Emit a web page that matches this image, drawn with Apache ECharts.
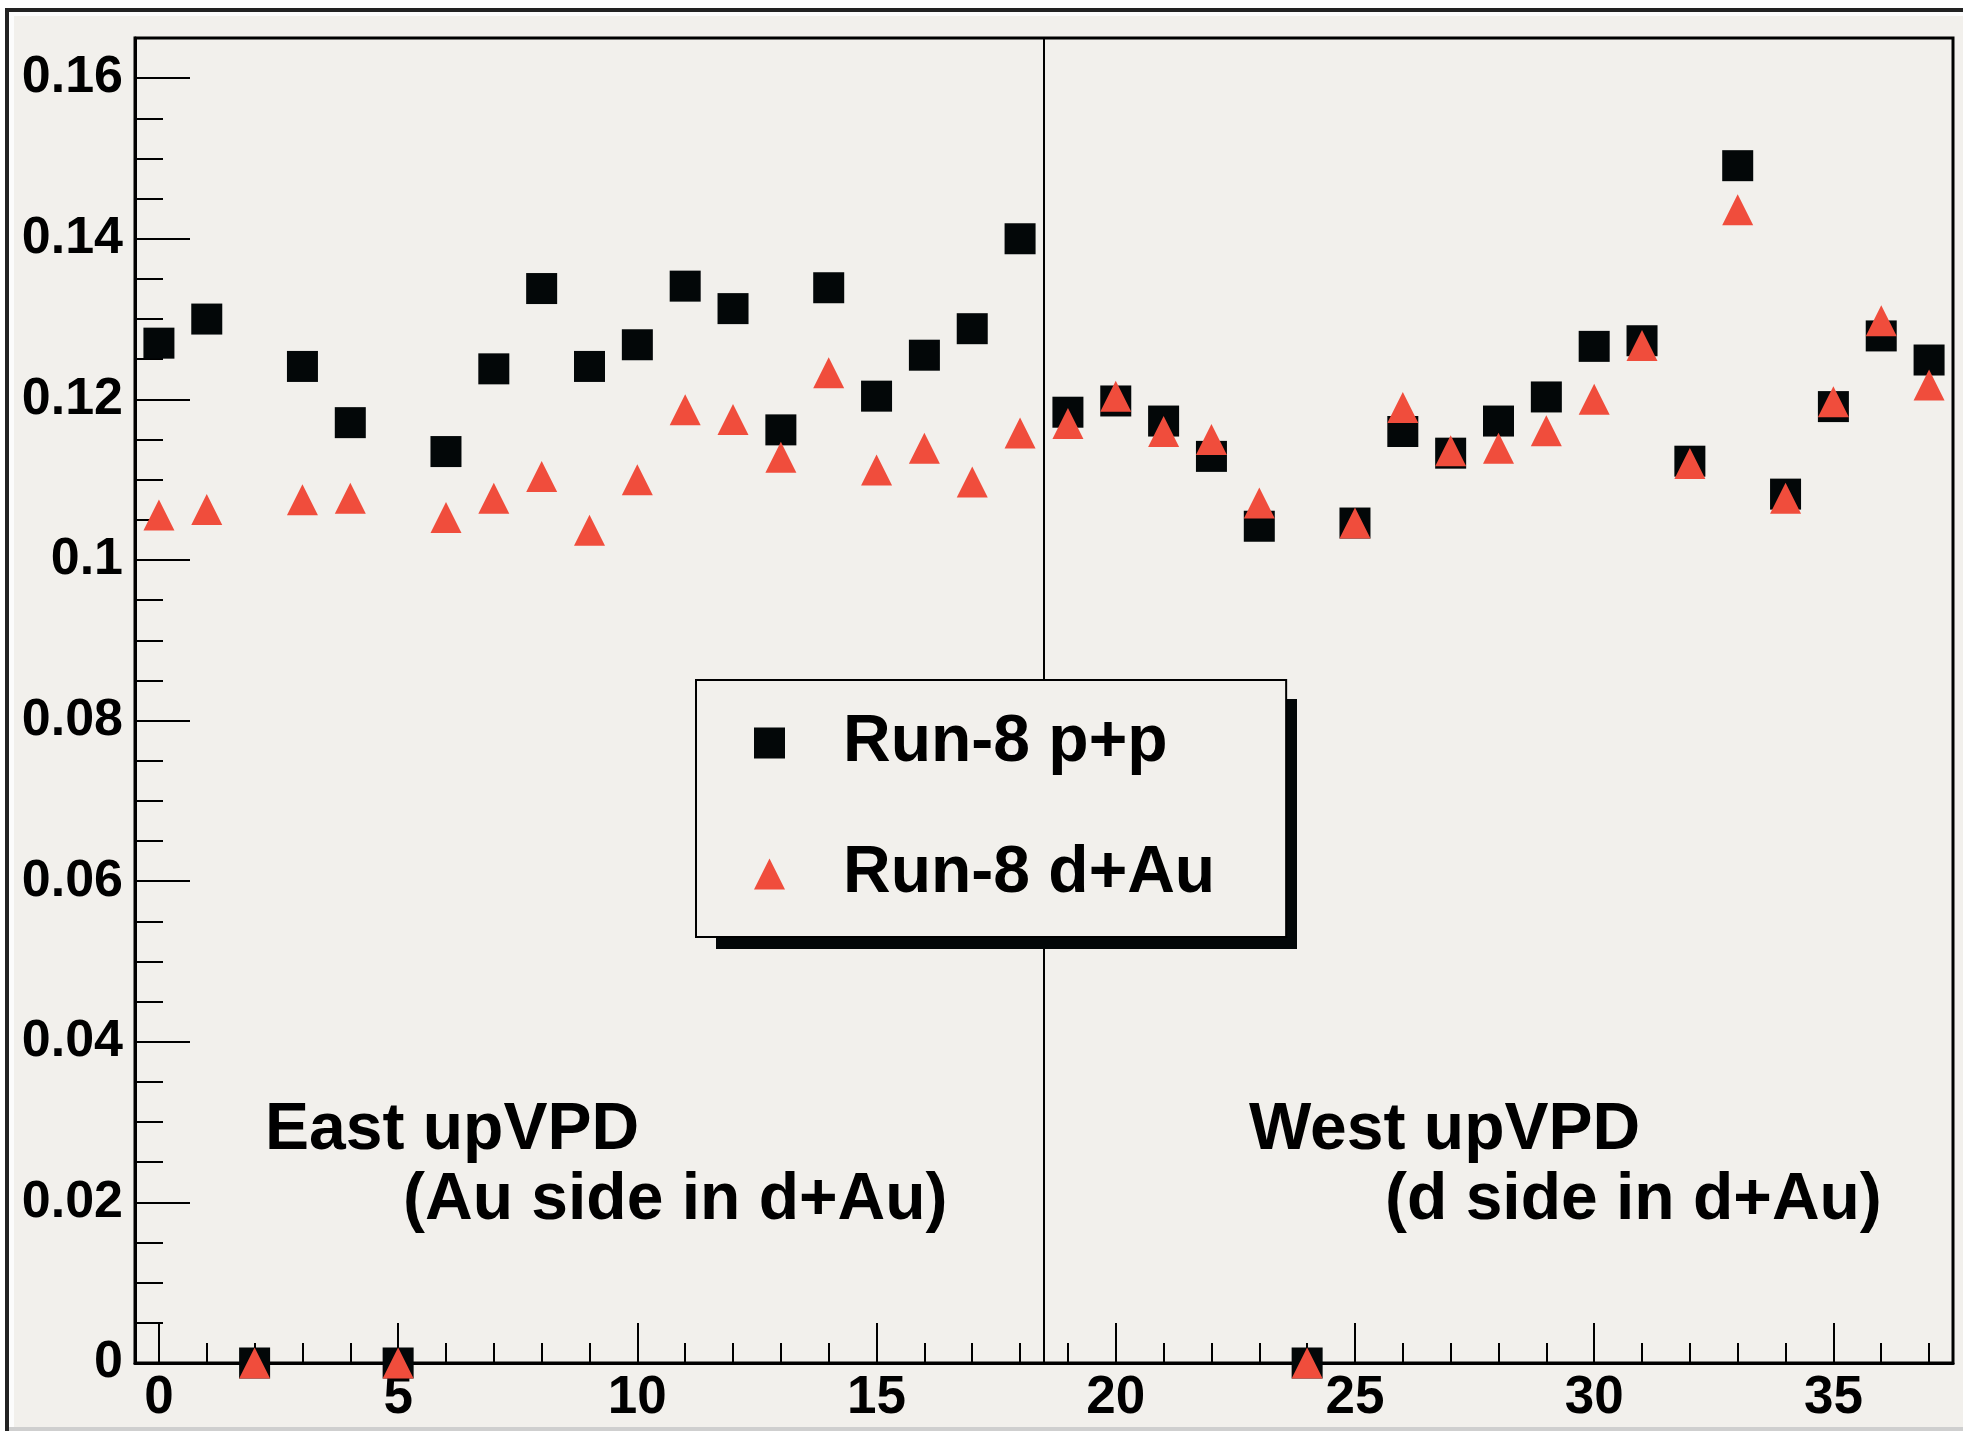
<!DOCTYPE html>
<html>
<head>
<meta charset="utf-8">
<script src="https://cdn.jsdelivr.net/npm/echarts@6/dist/echarts.min.js"></script>
<style>
  html, body { margin: 0; padding: 0; background: #f2f0ec; }
  #main { width: 1963px; height: 1431px; }
</style>
</head>
<body>
<div id="main"></div>
<script>
// channel number (x)
var channels = [0,1,2,3,4,5,6,7,8,9,10,11,12,13,14,15,16,17,18,19,
                20,21,22,23,24,25,26,27,28,29,30,31,32,33,34,35,36,37];
// Run-8 p+p (black squares)
var ppValues = [0.1270,0.1300,0,0.1241,0.1171,0,0.1135,0.1238,0.1338,0.1241,
                0.1268,0.1341,0.1313,0.1162,0.1339,0.1204,0.1255,0.1288,0.1400,0.1184,
                0.1198,0.1173,0.1129,0.1042,0,0.1046,0.1160,0.1133,0.1173,0.1203,
                0.1266,0.1273,0.1123,0.1491,0.1082,0.1191,0.1279,0.1249];
// Run-8 d+Au (red triangles)
var dauValues = [0.1056,0.1063,0,0.1075,0.1077,0,0.1053,0.1077,0.1104,0.1037,
                 0.1100,0.1187,0.1175,0.1128,0.1233,0.1112,0.1139,0.1097,0.1158,0.1170,
                 0.1204,0.1160,0.1150,0.1071,0,0.1046,0.1190,0.1136,0.1139,0.1161,
                 0.1200,0.1267,0.1120,0.1436,0.1077,0.1197,0.1298,0.1218];
var seriesNames = ['Run-8 p+p', 'Run-8 d+Au'];
var xTickLabels = [0,5,10,15,20,25,30,35];
var yTickLabels = [0,0.02,0.04,0.06,0.08,0.1,0.12,0.14,0.16];
var dividerX = 18.5;

var yMinor = [];
for (var i = 0; i <= 32; i++) yMinor.push(+(i * 0.005).toFixed(3));

function pairs(xs, ys) {
    var arr = [];
    for (var i = 0; i < xs.length; i++) arr.push([xs[i], ys[i]]);
    return arr;
}

var FONT = 'Liberation Sans, Arial, Helvetica, sans-serif';
var BG = '#f2f0ec';

var chart = echarts.init(document.getElementById('main'));
var option = {
    animation: false,
    backgroundColor: BG,
    grid: {
        left: 135, top: 38, right: 10, bottom: 68,
        show: true, borderColor: '#000', borderWidth: 3,
        backgroundColor: 'transparent'
    },
    xAxis: [
        {
            type: 'value', min: -0.5, max: 37.5, position: 'bottom',
            axisLine: { onZero: false, lineStyle: { color: '#000', width: 3 } },
            axisTick: { inside: true, length: 40, customValues: xTickLabels,
                        lineStyle: { color: '#000', width: 2 } },
            axisLabel: { customValues: xTickLabels, color: '#000', fontSize: 53,
                         fontWeight: 'bold', fontFamily: FONT, margin: 9 },
            splitLine: { show: false }
        },
        {
            type: 'value', min: -0.5, max: 37.5, position: 'bottom',
            axisLine: { show: false, onZero: false },
            axisTick: { inside: true, length: 20, customValues: channels,
                        lineStyle: { color: '#000', width: 2 } },
            axisLabel: { show: false },
            splitLine: { show: false }
        }
    ],
    yAxis: [
        {
            type: 'value', min: 0, max: 0.165, position: 'left',
            axisLine: { show: true, onZero: false, lineStyle: { color: '#000', width: 3 } },
            axisTick: { show: true, inside: true, length: 55, customValues: yTickLabels,
                        lineStyle: { color: '#000', width: 2 } },
            axisLabel: {
                customValues: yTickLabels, color: '#000', fontSize: 52,
                fontWeight: 'bold', fontFamily: FONT, margin: 12,
                formatter: function (v) { return String(+(+v).toFixed(3)); }
            },
            splitLine: { show: false }
        },
        {
            type: 'value', min: 0, max: 0.165, position: 'left',
            axisLine: { show: false, onZero: false },
            axisTick: { show: true, inside: true, length: 28, customValues: yMinor,
                        lineStyle: { color: '#000', width: 2 } },
            axisLabel: { show: false },
            splitLine: { show: false }
        }
    ],
    legend: {
        z: 20,
        orient: 'vertical',
        left: 696, top: 680,
        padding: [30, 71, 30, 58],
        itemWidth: 31, itemHeight: 31, itemGap: 65,
        backgroundColor: BG,
        borderColor: '#000', borderWidth: 2,
        textStyle: { color: '#000', fontSize: 66, fontWeight: 'bold', fontFamily: FONT,
                     padding: [0, 0, 0, 53] },
        data: [
            { name: seriesNames[0], icon: 'rect' },
            { name: seriesNames[1], icon: 'triangle' }
        ]
    },
    graphic: [
        // canvas border
        { type: 'rect', z: -1, shape: { x: 0, y: 0, width: 1963, height: 8 }, style: { fill: '#fff' } },
        { type: 'rect', z: -1, shape: { x: 0, y: 0, width: 5, height: 1431 }, style: { fill: '#fff' } },
        { type: 'rect', z: -1, shape: { x: 5, y: 8, width: 1958, height: 4 }, style: { fill: '#222' } },
        { type: 'rect', z: -1, shape: { x: 5, y: 8, width: 4, height: 1423 }, style: { fill: '#222' } },
        { type: 'rect', z: -1, shape: { x: 9, y: 12, width: 1954, height: 4 }, style: { fill: '#fcfcfc' } },
        { type: 'rect', z: -1, shape: { x: 9, y: 12, width: 5, height: 1419 }, style: { fill: '#fcfcfc' } },
        { type: 'rect', z: -1, shape: { x: 9, y: 1427, width: 1954, height: 4 }, style: { fill: '#cfcfcf' } },
        // legend drop shadow
        { type: 'rect', z: 15, shape: { x: 716, y: 699, width: 581, height: 250 }, style: { fill: '#030708' } },
        // annotations
        { type: 'text', left: 265, top: 1098, style: { text: 'East upVPD', fill: '#000',
          font: 'bold 66px ' + FONT } },
        { type: 'text', left: 403, top: 1168, style: { text: '(Au side in d+Au)', fill: '#000',
          font: 'bold 66px ' + FONT } },
        { type: 'text', left: 1249, top: 1098, style: { text: 'West upVPD', fill: '#000',
          font: 'bold 66px ' + FONT } },
        { type: 'text', left: 1385, top: 1168, style: { text: '(d side in d+Au)', fill: '#000',
          font: 'bold 66px ' + FONT } }
    ],
    series: [
        {
            name: seriesNames[0], type: 'scatter', symbol: 'rect', symbolSize: 31,
            itemStyle: { color: '#030708', opacity: 1 }, clip: false,
            data: pairs(channels, ppValues),
            markLine: {
                silent: true, symbol: ['none', 'none'], label: { show: false },
                lineStyle: { color: '#000', width: 2, type: 'solid', opacity: 1 },
                data: [{ xAxis: dividerX }]
            }
        },
        {
            name: seriesNames[1], type: 'scatter', symbol: 'triangle', symbolSize: 31,
            itemStyle: { color: '#f04d3c', opacity: 1 }, clip: false,
            data: pairs(channels, dauValues)
        }
    ]
};
chart.setOption(option);
</script>
</body>
</html>
